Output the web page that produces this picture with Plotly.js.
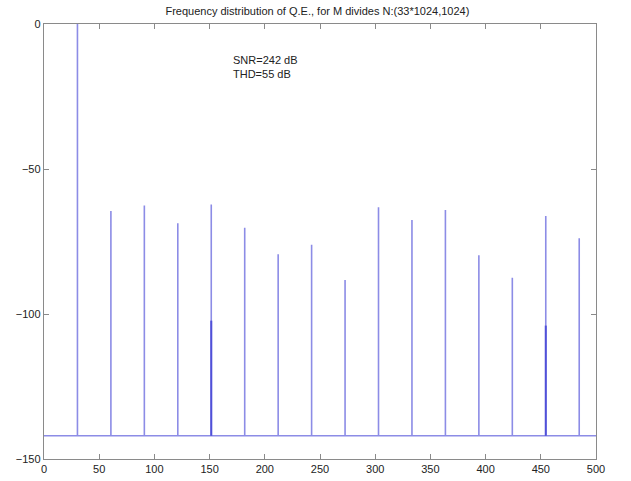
<!DOCTYPE html>
<html><head><meta charset="utf-8">
<script src="https://cdn.plot.ly/plotly-3.0.1.min.js"></script>
<style>html,body{margin:0;padding:0;background:#fff}</style>
</head><body><div id="chart" style="width:631px;height:481px"></div>
<script>
// harmonic bins (x) and their levels in dB
const freqs = [30.3, 60.6, 90.9, 121.2, 151.5, 181.8, 212.1, 242.4, 272.7, 303.0, 333.3, 363.6, 393.9, 424.2, 454.5, 484.8];
const levels = [0, -64.5, -62.6, -68.7, -62.2, -70.3, -79.4, -76.1, -88.3, -63.2, -67.6, -64.1, -79.7, -87.5, -66.2, -73.9];
const floorLevel = -142;
const xRange = [0, 500];
// second (overlaid) series: spikes that reach a lower level
const freqs2 = [151.5, 454.5];
const levels2 = [-102.3, -104];
const titleText = 'Frequency distribution of Q.E., for M divides N:(33*1024,1024)';
const notes = ['SNR=242 dB', 'THD=55 dB'];

function spikeTrace(fx, fy, x0, x1) {
  const x = [x0], y = [floorLevel];
  for (let i = 0; i < fx.length; i++) {
    x.push(fx[i], fx[i], fx[i]);
    y.push(floorLevel, fy[i], floorLevel);
  }
  x.push(x1); y.push(floorLevel);
  return {x, y};
}
const s1 = spikeTrace(freqs, levels, xRange[0], xRange[1]);
const s2x = [], s2y = [];
for (let i = 0; i < freqs2.length; i++) {
  s2x.push(freqs2[i], freqs2[i], null);
  s2y.push(floorLevel, levels2[i], null);
}

const data = [
  {x: s1.x, y: s1.y, type: 'scatter', mode: 'lines', line: {color: '#8c8ce6', width: 1.6}, hoverinfo: 'none'},
  {x: s2x, y: s2y, type: 'scatter', mode: 'lines', line: {color: '#5050d8', width: 2}, hoverinfo: 'none', connectgaps: false}
];

const axisCommon = {
  showgrid: false, zeroline: false, showline: true, mirror: 'ticks',
  linecolor: '#8a8a8a', linewidth: 1.2, ticks: 'inside', ticklen: 5, tickcolor: '#8a8a8a',
  tickfont: {family: 'Liberation Sans, Arial, sans-serif', size: 11, color: '#222'}
};

const layout = {
  width: 631, height: 481,
  margin: {l: 44, r: 35, t: 24, b: 22},
  paper_bgcolor: '#fff', plot_bgcolor: '#fff',
  showlegend: false,
  title: {text: titleText, x: 0.503, xanchor: 'center', y: 0.985, yanchor: 'top',
          font: {family: 'Liberation Sans, Arial, sans-serif', size: 11, color: '#222'}},
  xaxis: Object.assign({}, axisCommon, {range: xRange, dtick: 50, tick0: 0}),
  yaxis: Object.assign({}, axisCommon, {range: [-150, 0], dtick: 50, tick0: 0}),
  annotations: [{
    x: 169, y: -9.5, xref: 'x', yref: 'y', xanchor: 'left', yanchor: 'top', align: 'left',
    showarrow: false, text: notes.join('<br>'),
    font: {family: 'Liberation Sans, Arial, sans-serif', size: 11, color: '#222'}
  }]
};
Plotly.newPlot('chart', data, layout, {displayModeBar: false, staticPlot: true});
</script></body></html>
